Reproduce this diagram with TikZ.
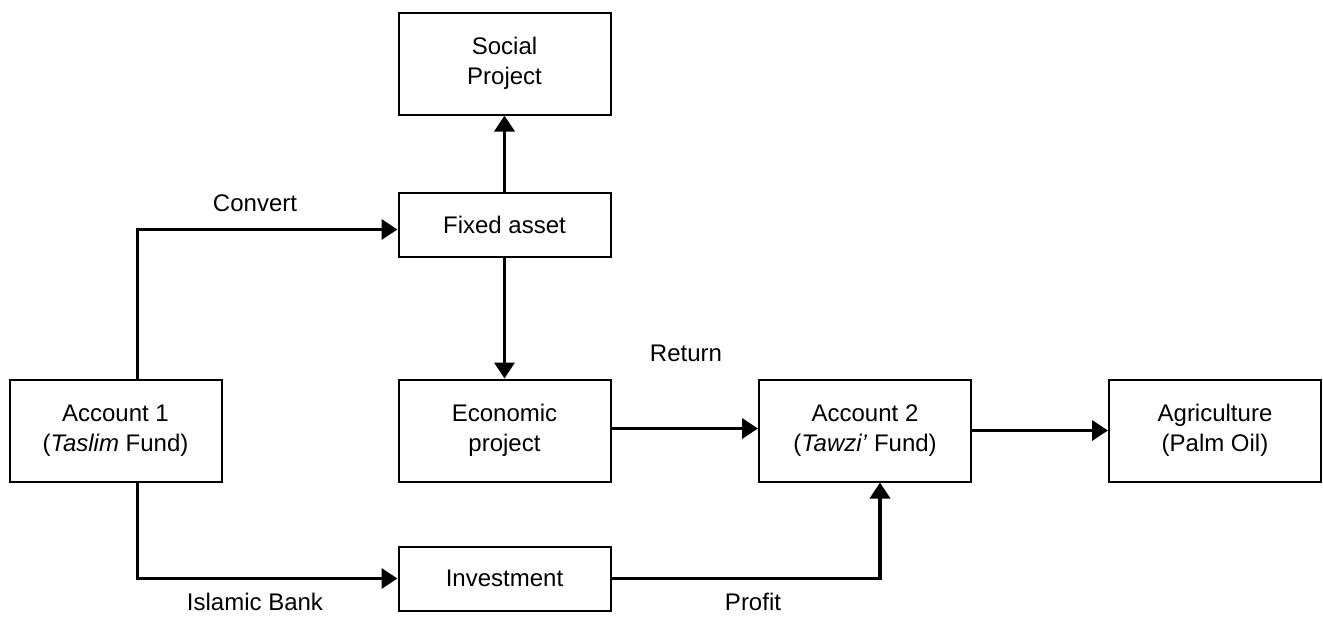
\documentclass[tikz,border=0pt]{standalone}
\usepackage{fontspec}
\setmainfont{Liberation Sans}
\usetikzlibrary{arrows.meta}
\tikzset{
  box/.style={draw,line width=1pt,minimum width=106pt,minimum height=51pt,align=center,inner sep=0pt,font=\fontsize{12}{15}\selectfont},
  conn/.style={line width=1.75pt,-{Triangle[length=8pt,width=10pt]}},
  lbl/.style={font=\fontsize{12}{15}\selectfont}
}

\begin{document}
\begin{tikzpicture}[x=0.5pt,y=-0.5pt]
\useasboundingbox (0,0) rectangle (1323,616);

\node[box] (social) at (504.5,63.5) {Social\\Project};
\node[box,minimum height=32pt] (fixed) at (504.5,224.5) {Fixed asset};
\node[box] (econ) at (504.5,430.5) {Economic\\project};
\node[box] (acc1) at (115.5,430.5) {Account 1\\(\textit{Taslim} Fund)};
\node[box] (acc2) at (865,430.5) {Account 2\\(\textit{Tawzi'} Fund)};
\node[box] (agri) at (1215,430.5) {Agriculture\\(Palm Oil)};
\node[box,minimum height=32pt] (invest) at (504.5,578.5) {Investment};

\draw[conn] (fixed.north) -- (social.south);
\draw[conn] (fixed.south) -- (econ.north);
\draw[conn] ([xshift=11pt]acc1.north) |- ([yshift=-2.5pt]fixed.west);
\draw[conn] ([xshift=11pt]acc1.south) |- (invest.west);
\draw[conn] ([yshift=1pt]econ.east) -- ([yshift=1pt]acc2.west);
\draw[conn] (acc2.east) -- (agri.west);
\draw[conn] (invest.east) -| ([xshift=7.5pt]acc2.south);

\node[lbl] (convert) at (255,203) {Convert};
\node[lbl] (bank) at (255,602) {Islamic Bank};
\node[lbl] (return) at (686,353) {Return};
\node[lbl] (profit) at (753,602) {Profit};

\end{tikzpicture}
\end{document}
